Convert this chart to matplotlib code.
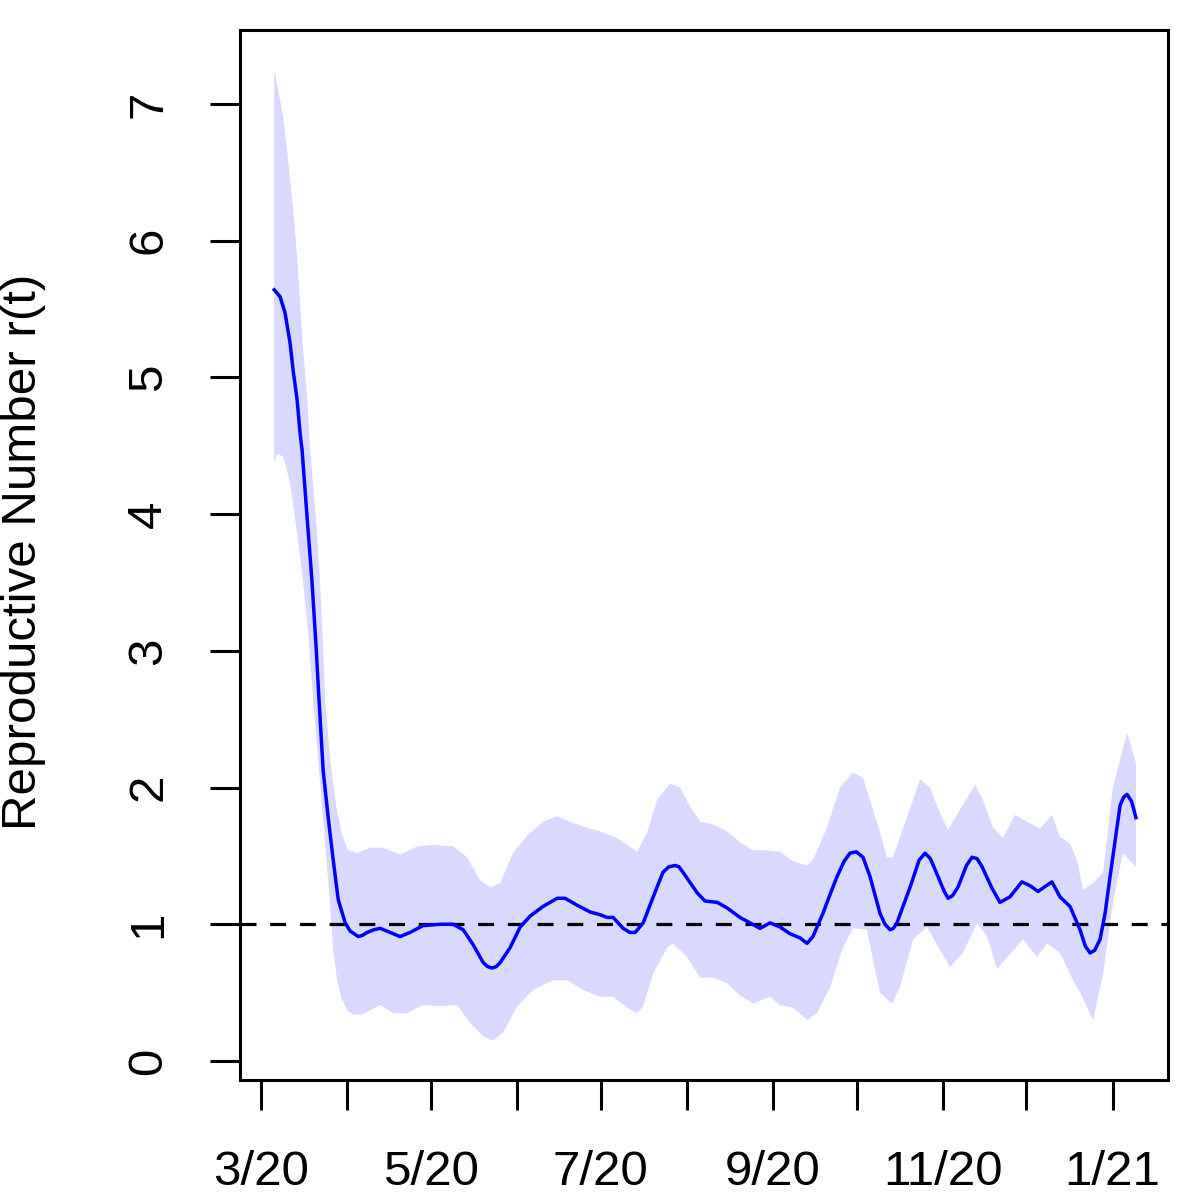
import matplotlib
matplotlib.use("Agg")
import matplotlib.pyplot as plt

plt.rcParams['font.family'] = ['Liberation Sans', 'DejaVu Sans']

# days since 1 Mar 2020
mid_day = [4.7, 6.8, 8.6, 10.4, 11.5, 12.9, 14.0, 14.7, 16.5, 18.3, 19.8, 20.8,
           22.3, 24.1, 25.9, 27.7, 30.2, 32.0, 34.9, 36.5, 38.1, 40.5, 42.8, 46.4,
           49.9, 53.5, 58.2, 64.3, 69.0, 72.6, 76.2, 79.8, 81.4, 83.0, 84.5,
           85.9, 89.5, 93.1, 96.7, 101.3, 106.4, 109.2, 113.5, 118.2, 121.8, 124.3,
           126.5, 130.1, 132.5, 134.4, 137.3, 140.9, 144.4, 146.5, 148.8, 150.2,
           151.6, 156.7, 159.5, 163.9, 167.4, 172.1, 175.7, 179.3, 182.9, 186.5,
           190.1, 193.7, 196.2, 198.3, 201.9, 204.5, 207.0, 209.5, 211.6, 213.9,
           216.3, 218.8, 222.4, 224.2, 226.0, 227.2, 228.5, 233.2, 236.5, 238.6,
           240.5, 242.2, 245.5, 246.9, 248.5, 250.4, 253.5, 255.5, 257.3, 259.1,
           262.5, 265.5, 269.1, 273.4, 276.5, 279.2, 284.2, 287.1, 290.7, 294.3,
           296.2, 297.9, 299.6, 301.5, 303.3, 305.1, 308.7, 310.0, 311.2, 312.8,
           314.4]
mid_r = [5.64, 5.59, 5.47, 5.25, 5.05, 4.84, 4.59, 4.47, 3.98, 3.50, 3.01, 2.64,
         2.12, 1.78, 1.47, 1.18, 1.01, 0.95, 0.91, 0.92, 0.94, 0.96, 0.97, 0.94,
         0.91, 0.94, 0.99, 1.00, 1.00, 0.96, 0.85, 0.72, 0.69, 0.68, 0.69,
         0.72, 0.83, 0.98, 1.06, 1.13, 1.19, 1.19, 1.14, 1.09, 1.07, 1.05,
         1.05, 0.97, 0.94, 0.94, 1.01, 1.20, 1.38, 1.42, 1.43, 1.42,
         1.38, 1.23, 1.17, 1.16, 1.12, 1.05, 1.01, 0.97, 1.01, 0.98,
         0.93, 0.90, 0.86, 0.91, 1.08, 1.22, 1.35, 1.46, 1.52, 1.53,
         1.49, 1.35, 1.08, 1.00, 0.96, 0.97, 1.01, 1.27, 1.47, 1.52,
         1.48, 1.40, 1.24, 1.19, 1.21, 1.27, 1.43, 1.49, 1.48, 1.42,
         1.27, 1.16, 1.20, 1.31, 1.28, 1.24, 1.31, 1.20, 1.13, 0.96,
         0.84, 0.79, 0.81, 0.89, 1.08, 1.35, 1.87, 1.93, 1.95, 1.90,
         1.78]

up_day = [4.7, 6.1, 7.9, 9.7, 11.5, 12.9, 14.0, 15.1, 16.5, 17.6, 20.1, 21.2,
          22.3, 23.0, 24.8, 26.9, 29.1, 31.3, 34.5, 39.2,
          43.8, 49.9, 56.1, 61.8, 69.0, 74.0, 78.7, 82.3, 85.9, 90.5, 95.6, 101.3,
          106.4, 112.1, 118.2, 121.8, 127.9, 131.5, 135.1, 138.7, 142.3, 147.0,
          150.6, 154.2, 157.8, 162.4, 167.4, 172.1, 176.8, 181.8, 186.5, 191.2,
          196.2, 198.3, 203.4, 208.0, 212.7, 216.3, 219.9, 222.4, 224.9, 227.1,
          232.1, 236.8, 240.4, 244.0, 246.9, 251.2, 256.6, 259.4, 263.0, 266.6,
          270.9, 275.2, 279.9, 284.2, 287.1, 290.7, 293.2, 295.4, 299.0, 302.6,
          306.1, 311.2, 314.4]
up_r = [7.25, 7.10, 6.91, 6.59, 6.23, 5.88, 5.54, 5.20, 4.86, 4.47, 3.86, 3.50,
        3.01, 2.64, 2.20, 1.87, 1.65, 1.54, 1.52, 1.56,
        1.56, 1.51, 1.57, 1.58, 1.57, 1.49, 1.32, 1.27, 1.30, 1.52, 1.65, 1.75,
        1.79, 1.74, 1.70, 1.68, 1.63, 1.58, 1.53, 1.67, 1.91, 2.03,
        2.00, 1.86, 1.75, 1.73, 1.68, 1.60, 1.54, 1.54, 1.53, 1.46,
        1.43, 1.47, 1.71, 2.00, 2.11, 2.07, 1.84, 1.67, 1.49, 1.49,
        1.78, 2.06, 2.00, 1.81, 1.69, 1.84, 2.02, 1.91, 1.71, 1.63,
        1.80, 1.75, 1.70, 1.80, 1.64, 1.59, 1.47, 1.25, 1.30, 1.38,
        2.00, 2.40, 2.18]

lo_day = [4.7, 5.8, 7.9, 10.4, 12.9, 15.1, 16.9, 18.7, 20.5, 22.3, 24.1, 25.9,
          27.3, 28.7, 30.9, 33.1, 36.3, 42.8, 47.4,
          52.5, 58.2, 64.3, 70.4, 75.1, 79.8, 83.4, 87.0, 92.0, 97.7, 104.9, 110.0,
          115.7, 121.8, 126.5, 131.5, 135.1, 137.3, 140.9, 145.9, 148.0, 153.1,
          157.7, 162.4, 167.4, 172.1, 176.8, 182.9, 186.5, 191.2, 196.2, 199.8,
          204.5, 209.1, 212.7, 217.7, 219.9, 222.4, 226.7, 229.6, 234.3, 239.3,
          244.0, 247.6, 252.2, 257.3, 260.9, 264.5, 268.1, 273.8, 278.8, 282.4,
          287.1, 291.8, 294.3, 299.0, 302.6, 306.1, 309.7, 314.4]
lo_r = [4.37, 4.44, 4.42, 4.23, 3.86, 3.50, 3.13, 2.64, 2.20, 1.76, 1.32, 0.81,
        0.59, 0.47, 0.37, 0.34, 0.34, 0.41, 0.35,
        0.35, 0.41, 0.40, 0.41, 0.28, 0.18, 0.15, 0.21, 0.40, 0.52, 0.59, 0.59,
        0.52, 0.47, 0.47, 0.39, 0.35, 0.40, 0.64, 0.83, 0.86, 0.76,
        0.61, 0.61, 0.57, 0.48, 0.42, 0.47, 0.41, 0.39, 0.30, 0.35,
        0.54, 0.83, 0.97, 0.96, 0.74, 0.50, 0.42, 0.54, 0.89, 0.98,
        0.81, 0.69, 0.79, 1.01, 0.91, 0.67, 0.76, 0.89, 0.76, 0.86,
        0.79, 0.59, 0.50, 0.30, 0.64, 1.16, 1.52, 1.42]

month_days = [0, 31, 61, 92, 122, 153, 184, 214, 245, 275, 306]
month_labels = ['3/20', '', '5/20', '', '7/20', '', '9/20', '', '11/20', '', '1/21']

fig = plt.figure(figsize=(12, 12), dpi=100)
ax = fig.add_axes([0.2, 0.1, 0.7733, 0.875])

ax.fill(up_day + lo_day[::-1], up_r + lo_r[::-1], color='#d9d9ff', lw=0)
ax.axhline(1, color='black', lw=2.3, ls=(0, (5, 4.3)))
ax.plot(mid_day, mid_r, color='#0000ff', lw=2.5, solid_joinstyle='round')

ax.set_xlim(-7.6, 325.9)
ax.set_ylim(-0.139, 7.54)

ax.set_xticks(month_days)
ax.set_xticklabels(month_labels)
ax.set_yticks(range(8))
ax.set_yticklabels([str(i) for i in range(8)], rotation=90, va='center')
ax.tick_params(direction='out', length=21.6, width=2.2, labelsize=35.5, color='black')
ax.tick_params(axis='x', pad=29)
ax.tick_params(axis='y', pad=28)
for s in ax.spines.values():
    s.set_linewidth(2.2)

fig.text(0.0195, 0.54, 'Reproductive Number r(t)', rotation=90,
         ha='center', va='center', fontsize=35.5)

fig.savefig('out.png', dpi=100)
